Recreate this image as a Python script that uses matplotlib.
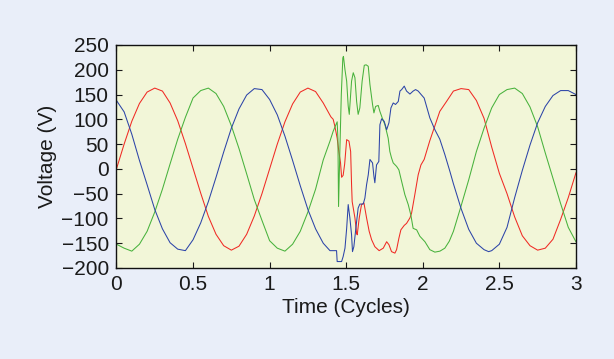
import matplotlib.pyplot as plt

# Three phase voltages (V) vs time (cycles)
t_red = [0.00, 0.05, 0.10, 0.15, 0.20, 0.25, 0.30, 0.35, 0.40, 0.45, 0.50, 0.55, 0.60, 0.65,
         0.70, 0.75, 0.80, 0.85, 0.90, 0.95, 1.00, 1.05, 1.10, 1.15, 1.20, 1.25, 1.30, 1.35,
         1.40, 1.415, 1.426, 1.441, 1.452, 1.463, 1.470, 1.480, 1.490, 1.503, 1.518, 1.529,
         1.535, 1.539, 1.557, 1.568, 1.572, 1.585, 1.600, 1.616, 1.633, 1.650, 1.666, 1.687,
         1.715, 1.742, 1.764, 1.779, 1.796, 1.818, 1.829, 1.844, 1.857, 1.879, 1.894, 1.916,
         1.927, 1.948, 1.970, 1.988, 2.009, 2.045, 2.078, 2.111, 2.155, 2.20, 2.25, 2.30,
         2.35, 2.40, 2.45, 2.50, 2.55, 2.60, 2.65, 2.70, 2.75, 2.80, 2.85, 2.90, 2.95, 3.00]
v_red = [0, 50, 96, 132, 155, 163, 157, 133, 97, 51, 1, -49, -96, -132, -155, -164, -156,
         -132, -95, -50, 0, 50, 95, 131, 155, 163, 156, 133, 105, 100, 86, 62, 35, 12, -17,
         -13, 10, 59, 56, 35, -32, -66, -99, -130, -133, -99, -72, -69, -99, -126, -143,
         -157, -165, -160, -147, -153, -167, -170, -163, -140, -123, -114, -110, -99, -89,
         -52, -12, 8, 19, 56, 86, 116, 136, 157, 162, 160, 138, 102, 44, -9, -50, -97, -135,
         -155, -164, -160, -142, -102, -58, -8]

t_green = [0.00, 0.05, 0.10, 0.15, 0.20, 0.25, 0.30, 0.35, 0.40, 0.45, 0.50, 0.55, 0.60,
           0.65, 0.70, 0.75, 0.80, 0.85, 0.90, 0.95, 1.00, 1.05, 1.10, 1.15, 1.20, 1.25,
           1.30, 1.35, 1.394, 1.415, 1.441, 1.446, 1.450, 1.458, 1.468, 1.478, 1.482, 1.492,
           1.503, 1.513, 1.520, 1.535, 1.546, 1.557, 1.568, 1.578, 1.589, 1.604, 1.618,
           1.630, 1.644, 1.655, 1.672, 1.681, 1.692, 1.709, 1.720, 1.735, 1.753, 1.774,
           1.785, 1.796, 1.807, 1.829, 1.844, 1.857, 1.883, 1.905, 1.922, 1.937, 1.960,
           1.981, 2.014, 2.046, 2.079, 2.112, 2.144, 2.173, 2.20, 2.25, 2.30, 2.35, 2.40,
           2.45, 2.50, 2.55, 2.60, 2.65, 2.70, 2.75, 2.80, 2.85, 2.90, 2.95, 3.00]
v_green = [-152, -160, -166, -152, -126, -87, -41, 10, 60, 104, 143, 158, 163, 152, 126, 87,
           41, -10, -62, -104, -145, -160, -166, -152, -126, -87, -41, 18, 56, 76, 95, 60,
           -76, 30, 150, 224, 227, 200, 177, 127, 110, 177, 194, 184, 136, 110, 123, 177,
           209, 210, 207, 170, 130, 113, 126, 128, 116, 103, 89, 62, 35, 22, 12, 5, -2, -19,
           -52, -72, -93, -120, -123, -136, -147, -163, -168, -166, -160, -146, -126, -75,
           -22, 35, 82, 123, 150, 160, 163, 152, 125, 85, 32, -19, -70, -118, -147]

t_blue = [0.00, 0.05, 0.10, 0.15, 0.20, 0.25, 0.30, 0.35, 0.40, 0.45, 0.50, 0.55, 0.60,
          0.65, 0.70, 0.75, 0.80, 0.85, 0.90, 0.95, 1.00, 1.05, 1.10, 1.15, 1.20, 1.25,
          1.30, 1.35, 1.394, 1.437, 1.441, 1.470, 1.480, 1.492, 1.503, 1.513, 1.524, 1.535,
          1.541, 1.550, 1.563, 1.578, 1.589, 1.611, 1.622, 1.633, 1.644, 1.655, 1.672,
          1.681, 1.687, 1.698, 1.713, 1.720, 1.731, 1.748, 1.764, 1.779, 1.792, 1.807,
          1.822, 1.840, 1.851, 1.862, 1.879, 1.894, 1.916, 1.937, 1.953, 1.970, 1.992,
          2.009, 2.046, 2.079, 2.111, 2.144, 2.177, 2.20, 2.25, 2.30, 2.35, 2.40, 2.43,
          2.45, 2.50, 2.55, 2.60, 2.65, 2.70, 2.75, 2.80, 2.85, 2.90, 2.95, 3.00]
v_blue = [138, 115, 70, 17, -32, -82, -121, -149, -162, -165, -143, -109, -66, -17, 34, 82,
          121, 149, 162, 160, 140, 109, 66, 17, -34, -82, -121, -150, -165, -165, -187,
          -187, -177, -160, -120, -72, -99, -133, -167, -157, -120, -79, -71, -71, -59, -32,
          -12, 19, 12, -15, -28, 8, 15, 89, 101, 96, 79, 93, 123, 133, 130, 136, 157, 160,
          167, 157, 151, 157, 160, 157, 149, 143, 103, 79, 60, 29, -5, -30, -80, -122, -150,
          -163, -167, -165, -152, -118, -58, -3, 48, 93, 126, 148, 158, 158, 150]

x_ticks = [0, 0.5, 1, 1.5, 2, 2.5, 3]
x_tick_labels = ['0', '0.5', '1', '1.5', '2', '2.5', '3']
y_ticks = [-200, -150, -100, -50, 0, 50, 100, 150, 200, 250]

plt.rcParams['font.family'] = ['Liberation Sans', 'DejaVu Sans']

fig = plt.figure(figsize=(6.14, 3.59), dpi=100, facecolor='#e9eef9')
ax = fig.add_axes([0.1897, 0.2535, 0.7483, 0.6212])
ax.set_facecolor('#f2f6d8')

ax.plot(t_red, v_red, color='#f02a24', lw=0.75)
ax.plot(t_green, v_green, color='#48b23c', lw=0.75)
ax.plot(t_blue, v_blue, color='#2c44a8', lw=0.75)

ax.set_xlim(0, 3)
ax.set_ylim(-200, 250)
ax.set_xticks(x_ticks)
ax.set_xticklabels(x_tick_labels)
ax.set_yticks(y_ticks)
ax.tick_params(direction='in', top=True, right=True, length=4, width=0.8,
               labelsize=15, colors='#1a1a1a')
ax.tick_params(axis='y', pad=5.5)
ax.tick_params(axis='x', pad=5)
for s in ax.spines.values():
    s.set_linewidth(1.0)
    s.set_color('#111111')

ax.set_xlabel('Time (Cycles)', fontsize=15, color='#1a1a1a', labelpad=3)
ax.set_ylabel('Voltage (V)', fontsize=15, color='#1a1a1a', labelpad=3)

fig.savefig('out.png', dpi=100, facecolor=fig.get_facecolor())
